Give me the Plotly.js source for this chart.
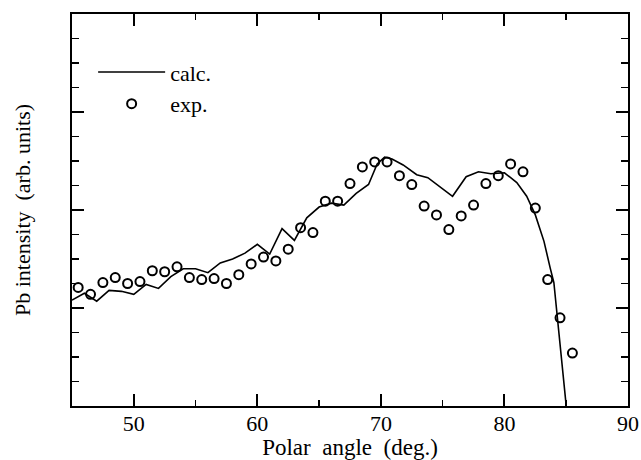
<!DOCTYPE html>
<html>
<head>
<meta charset="utf-8">
<script src="https://cdn.plot.ly/plotly-3.0.1.min.js"></script>
<style>html,body{margin:0;padding:0;background:#fff;}#chart{width:641px;height:460px;}</style>
</head>
<body>
<div id="chart"></div>
<script>
var calcAngle = [45,46,47,48,49,50,51,52,53,54,55,56,57,58,59,60,61,62,63,64,65,66,67,68,69,69.7,70.3,70.9,71.8,72.9,73.8,75.8,76.9,77.9,78.9,80,81,81.8,82.5,83.2,83.7,84,85];
var calcIntensity = [1.08,1.15,1.07,1.18,1.17,1.14,1.24,1.20,1.32,1.40,1.40,1.36,1.46,1.50,1.56,1.65,1.55,1.81,1.69,1.92,2.03,2.07,2.05,2.17,2.26,2.47,2.54,2.52,2.46,2.36,2.33,2.14,2.34,2.39,2.37,2.38,2.28,2.14,1.95,1.68,1.41,1.26,0];
var expAngle = [45.5,46.5,47.5,48.5,49.5,50.5,51.5,52.5,53.5,54.5,55.5,56.5,57.5,58.5,59.5,60.5,61.5,62.5,63.5,64.5,65.5,66.5,67.5,68.5,69.5,70.5,71.5,72.5,73.5,74.5,75.5,76.5,77.5,78.5,79.5,80.5,81.5,82.5,83.5,84.5,85.5];
var expIntensity = [1.21,1.14,1.26,1.31,1.25,1.27,1.38,1.37,1.42,1.31,1.29,1.30,1.25,1.34,1.45,1.52,1.48,1.60,1.82,1.77,2.09,2.09,2.27,2.44,2.49,2.49,2.35,2.26,2.04,1.95,1.80,1.94,2.05,2.27,2.35,2.47,2.39,2.02,1.29,0.90,0.54];
var xTickVals = [50,60,70,80,90];
var xTickText = ['50','60','70','80','90'];
var seriesNames = ['calc.','exp.'];

var fontFam = '"Liberation Serif","DejaVu Serif",serif';
var traces = [
  {x: calcAngle, y: calcIntensity, mode: 'lines', name: seriesNames[0],
   line: {color: '#000', width: 1.6}},
  {x: expAngle, y: expIntensity, mode: 'markers', name: seriesNames[1],
   marker: {symbol: 'circle-open', size: 9, color: '#000', line: {width: 2, color: '#000'}}}
];
var axisCommon = {
  showgrid: false, zeroline: false, showline: true, linecolor: '#000', linewidth: 2,
  mirror: 'allticks', ticks: 'inside', tickcolor: '#000', tickwidth: 2, ticklen: 12
};
var layout = {
  width: 641, height: 460,
  margin: {l: 72, r: 13, t: 14, b: 54},
  paper_bgcolor: '#fff', plot_bgcolor: '#fff',
  font: {family: fontFam, color: '#000', size: 22},
  showlegend: true,
  legend: {x: 0.038, y: 0.905, xanchor: 'left', yanchor: 'top', bgcolor: 'rgba(0,0,0,0)',
           font: {family: fontFam, size: 22, color: '#000'}, itemwidth: 67, tracegroupgap: 0},
  xaxis: Object.assign({}, axisCommon, {
    range: [45, 90], tickmode: 'array', tickvals: xTickVals, ticktext: xTickText,
    tickfont: {family: fontFam, size: 22, color: '#000'}, ticklabelstandoff: -3,
    minor: {dtick: 5, tick0: 45, ticklen: 6, tickwidth: 1.5, tickcolor: '#000', ticks: 'inside'},
    title: {text: 'Polar  angle  (deg.)', font: {family: fontFam, size: 23, color: '#000'}, standoff: 0}
  }),
  yaxis: Object.assign({}, axisCommon, {
    range: [0, 4], dtick: 1, tick0: 0, showticklabels: false,
    minor: {dtick: 0.25, ticklen: 7, tickwidth: 1.5, tickcolor: '#000', ticks: 'inside'},
    title: {text: 'Pb intensity  (arb. units)', font: {family: fontFam, size: 22, color: '#000'}, standoff: 33}
  })
};
Plotly.newPlot('chart', traces, layout, {staticPlot: true, displayModeBar: false});
</script>
</body>
</html>
